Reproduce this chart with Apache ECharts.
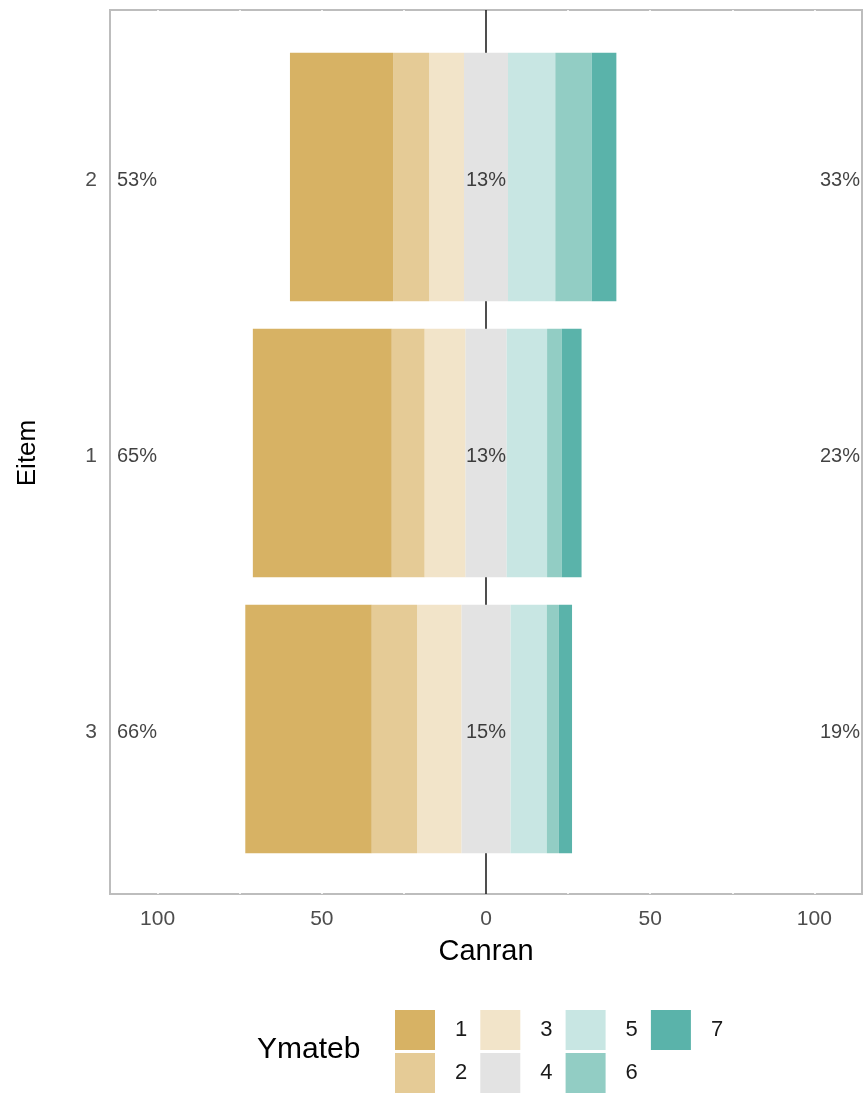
<!DOCTYPE html>
<html>
<head>
<meta charset="utf-8">
<script src="https://cdn.jsdelivr.net/npm/echarts@6/dist/echarts.min.js"></script>
<style>
html,body{margin:0;padding:0;background:#fff;}
#chart{width:866px;height:1093px;}
</style>
</head>
<body>
<div id="chart"></div>
<script>
// Items, listed bottom to top as the category axis draws them
const categories = ['3', '1', '2'];
const levels = ['1', '2', '3', '4', '5', '6', '7'];
// Percent of responses per level, per item (same order as categories)
const lvl1 = [38.5, 42.3, 31.4];
const lvl2 = [13.8, 10.0, 11.0];
const lvl3 = [13.5, 12.4, 10.6];
const lvl4 = [15.0, 12.6, 13.4];
const lvl5 = [11.0, 12.3, 14.4];
const lvl6 = [3.7, 4.5, 11.1];
const lvl7 = [4.0, 6.0, 7.5];
// Summary labels
const lowPct = [66, 65, 53];
const neutralPct = [15, 13, 13];
const highPct = [19, 23, 33];
// Axis tick labels
const xTicks = [-100, -50, 0, 50, 100];
const xGrid = [-100, -75, -50, -25, 0, 25, 50, 75, 100];

const colors = {
  '1': '#D7B264', '2': '#E5CB96', '3': '#F2E4C9', '4': '#E3E3E3',
  '5': '#C8E6E3', '6': '#92CDC4', '7': '#5AB3AA'
};
const XMIN = -114.5, XMAX = 114.5;
const FONT = '"Liberation Sans", Arial, sans-serif';

function bar(name, data) {
  return {
    name: name, type: 'bar', stack: 'likert', xAxisIndex: 0, yAxisIndex: 0,
    barWidth: '90%', data: data, itemStyle: { color: colors[name] }, z: 2
  };
}
const neg = a => a.map(v => -v);
const halfNeg = a => a.map(v => -v / 2);
const halfPos = a => a.map(v => v / 2);

const pctLabel = { fontSize: 20, color: '#111', fontFamily: FONT, offset: [0, 3] };

const series = [
  bar('4', halfNeg(lvl4)),
  bar('4', halfPos(lvl4)),
  bar('3', neg(lvl3)),
  bar('5', lvl5),
  bar('2', neg(lvl2)),
  bar('6', lvl6),
  bar('1', neg(lvl1)),
  bar('7', lvl7),
  {
    type: 'scatter', xAxisIndex: 0, yAxisIndex: 0, symbolSize: 0, z: 5, silent: true,
    data: lowPct.map((v, i) => [XMIN, categories[i], v]),
    label: Object.assign({ show: true, position: 'right', distance: 7, formatter: p => p.value[2] + '%' }, pctLabel)
  },
  {
    type: 'scatter', xAxisIndex: 0, yAxisIndex: 0, symbolSize: 0, z: 5, silent: true,
    data: neutralPct.map((v, i) => [0, categories[i], v]),
    label: Object.assign({ show: true, position: 'inside', formatter: p => p.value[2] + '%' }, pctLabel)
  },
  {
    type: 'scatter', xAxisIndex: 0, yAxisIndex: 0, symbolSize: 0, z: 5, silent: true,
    data: highPct.map((v, i) => [XMAX, categories[i], v]),
    label: Object.assign({ show: true, position: 'left', distance: 2, formatter: p => p.value[2] + '%' }, pctLabel)
  }
];

const legendCols = [['1', '2'], ['3', '4'], ['5', '6'], ['7']];
const legends = legendCols.map((d, k) => ({
  data: d, orient: 'vertical', left: 395 + 85.3 * k, top: 1010, height: 200, padding: 0,
  itemWidth: 40, itemHeight: 40, itemGap: 3, icon: 'rect', selectedMode: false,
  textStyle: { fontSize: 22, color: '#1a1a1a', fontFamily: FONT, padding: [0, 0, 0, 15], lineHeight: 30, verticalAlign: 'top' }
}));

const zeroColor = '#222';
const gridColors = xGrid.map(v => v === 0 ? zeroColor : '#ffffff');

const option = {
  animation: false,
  backgroundColor: '#ffffff',
  textStyle: { fontFamily: FONT },
  title: {
    text: 'Ymateb', left: 252, top: 1030,
    textStyle: { fontSize: 30, fontWeight: 'normal', color: '#000', fontFamily: FONT }
  },
  legend: legends,
  grid: [
    { left: 110, width: 752, top: 39, height: 828, show: false },
    { left: 110, width: 752, top: 10, height: 884, show: true,
      borderColor: '#BDBDBD', borderWidth: 2, backgroundColor: 'transparent' }
  ],
  xAxis: [
    { type: 'value', gridIndex: 0, min: XMIN, max: XMAX, show: false },
    {
      type: 'value', gridIndex: 1, min: XMIN, max: XMAX,
      axisLine: { show: false },
      axisTick: { show: false, customValues: xGrid },
      axisLabel: { customValues: xTicks, formatter: v => String(Math.abs(v)),
        fontSize: 21, color: '#4D4D4D', margin: 15, fontFamily: FONT },
      splitLine: { show: true, lineStyle: { color: gridColors, width: 1.6 } },
      name: 'Canran', nameLocation: 'middle', nameGap: 43,
      nameTextStyle: { fontSize: 29, color: '#000', fontFamily: FONT }
    }
  ],
  yAxis: [
    {
      type: 'category', gridIndex: 0, data: categories,
      axisLine: { show: false }, axisTick: { show: false },
      axisLabel: { fontSize: 21, color: '#4D4D4D', margin: 13, fontFamily: FONT, padding: [0, 0, 0, 0], lineHeight: 21, verticalAlign: 'top', padding: [-7, 0, 0, 0] },
      name: 'Eitem', nameLocation: 'middle', nameRotate: 90, nameGap: 69,
      nameTextStyle: { fontSize: 26, color: '#000', fontFamily: FONT }
    },
    { type: 'value', gridIndex: 1, show: false, min: 0, max: 1 }
  ],
  series: series
};

const chart = echarts.init(document.getElementById('chart'), null, { renderer: 'canvas' });
chart.setOption(option);
</script>
</body>
</html>
